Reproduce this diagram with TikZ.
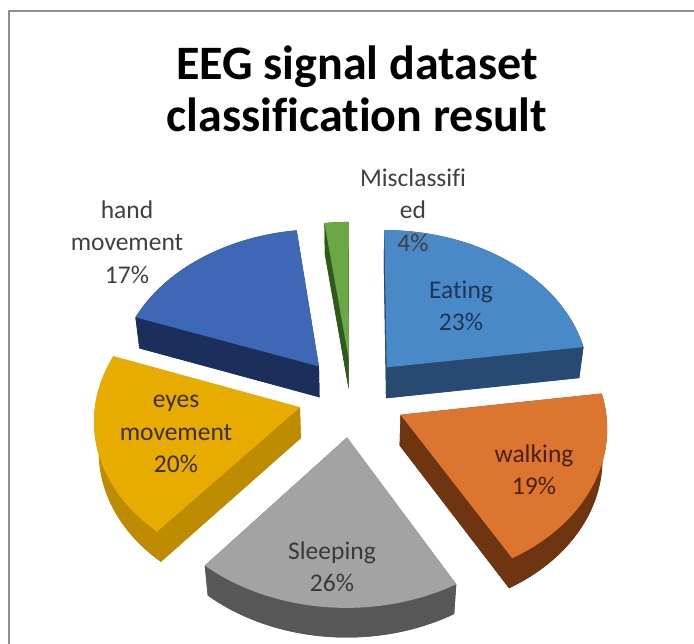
\documentclass[tikz,border=0pt]{standalone}
\usepackage{fontspec}
\setmainfont{Carlito}[Ligatures=NoCommon]
\definecolor{framegray}{HTML}{8E8E8E}
\definecolor{labgray}{HTML}{404040}
\definecolor{eattop}{HTML}{4A89C8}
\definecolor{eatside}{HTML}{284A72}
\definecolor{eatink}{HTML}{1E3656}
\definecolor{misctop}{HTML}{6CA745}
\definecolor{miscside}{HTML}{2E5A1C}
\definecolor{handtop}{HTML}{3E67B6}
\definecolor{handside}{HTML}{1C2F5C}
\definecolor{eyestop}{HTML}{E8AC00}
\definecolor{eyesside}{HTML}{BE8C00}
\definecolor{eyesink}{HTML}{3B2E00}
\definecolor{sleeptop}{HTML}{A3A3A3}
\definecolor{sleepside}{HTML}{575757}
\definecolor{sleepink}{HTML}{3A3A3A}
\definecolor{walktop}{HTML}{DC7530}
\definecolor{walkside}{HTML}{6E3510}
\definecolor{walkink}{HTML}{4A2108}

% one exploded slice of the 3d pie: {from}{to}{top colour}{side colour}
\newcommand{\pieslice}[4]{%
  \pgfmathsetmacro{\smid}{(#1+#2)/2}%
  \pgfmathsetmacro{\ox}{\pieexp*cos(\smid)}%
  \pgfmathsetmacro{\oy}{\pieexp*sin(\smid)}%
  % sides first: bottom, rim, the two cuts
  \fill[#4] ({scrx(\ox,\oy,-\pieh)},{scry(\ox,\oy,-\pieh)})
    -- plot[domain=#1:#2] ({scrx(\ox+cos(\t),\oy+sin(\t),-\pieh)},{scry(\ox+cos(\t),\oy+sin(\t),-\pieh)}) -- cycle;
  \fill[#4] plot[domain=#1:#2] ({scrx(\ox+cos(\t),\oy+sin(\t),0)},{scry(\ox+cos(\t),\oy+sin(\t),0)})
    -- plot[domain=#2:#1] ({scrx(\ox+cos(\t),\oy+sin(\t),-\pieh)},{scry(\ox+cos(\t),\oy+sin(\t),-\pieh)}) -- cycle;
  \foreach \e in {#1,#2}{
    \fill[#4] ({scrx(\ox,\oy,0)},{scry(\ox,\oy,0)})
      -- ({scrx(\ox+cos(\e),\oy+sin(\e),0)},{scry(\ox+cos(\e),\oy+sin(\e),0)})
      -- ({scrx(\ox+cos(\e),\oy+sin(\e),-\pieh)},{scry(\ox+cos(\e),\oy+sin(\e),-\pieh)})
      -- ({scrx(\ox,\oy,-\pieh)},{scry(\ox,\oy,-\pieh)}) -- cycle;
  }
  % top face
  \fill[#3] ({scrx(\ox,\oy,0)},{scry(\ox,\oy,0)})
    -- plot[domain=#1:#2] ({scrx(\ox+cos(\t),\oy+sin(\t),0)},{scry(\ox+cos(\t),\oy+sin(\t),0)}) -- cycle;
}

\begin{document}
\begin{tikzpicture}[x=1pt, y=1pt,
  declare function={
    dep(\qx,\qy,\qz)=\qy*0.669-\qz*0.743;
    sc(\qx,\qy,\qz)=9.07/(9.07+dep(\qx,\qy,\qz));
    scrx(\qx,\qy,\qz)=352+204*\qx*sc(\qx,\qy,\qz);
    scry(\qx,\qy,\qz)=247+204*(\qy*0.743+\qz*0.669)*sc(\qx,\qy,\qz);
  },
  variable=\t, samples=40,
  titletext/.style={font=\fontsize{48}{49}\selectfont\bfseries, anchor=base, inner sep=0pt},
  lab/.style={font=\fontsize{25.5}{32.5}\selectfont, align=center, inner sep=0pt, text=labgray}
]
\useasboundingbox (0,0) rectangle (694,644);
\def\pieexp{0.263}
\def\pieh{0.23}
% ---------------- frame
\draw[framegray, line width=1.5pt] (9,0) -- (9,633) -- (694,633);
% ---------------- title
\node[titletext] (title1) at (357,564) {EEG signal dataset};
\node[titletext] (title2) at (357,512) {classification result};
% ---------------- slices, back to front
\pieslice{8}{90}{eattop}{eatside}
\pieslice{90}{97.5}{misctop}{miscside}
\pieslice{97.5}{160}{handtop}{handside}
\pieslice{160}{230}{eyestop}{eyesside}
\pieslice{-60.5}{8}{walktop}{walkside}
\pieslice{230}{299.5}{sleeptop}{sleepside}
% ---------------- labels
\node[lab] (handlab) at (127,402) {hand\\movement\\17\%};
\node[lab] (misclab) at (413,434) {Misclassifi\\ed\\4\%};
\node[lab, text=eatink] (eatlab) at (461,338) {Eating\\23\%};
\node[lab, text=eyesink] (eyeslab) at (176,210) {eyes\\movement\\20\%};
\node[lab, text=sleepink] (sleeplab) at (332,77) {Sleeping\\26\%};
\node[lab, text=walkink] (walklab) at (534,174) {walking\\19\%};
\end{tikzpicture}
\end{document}
